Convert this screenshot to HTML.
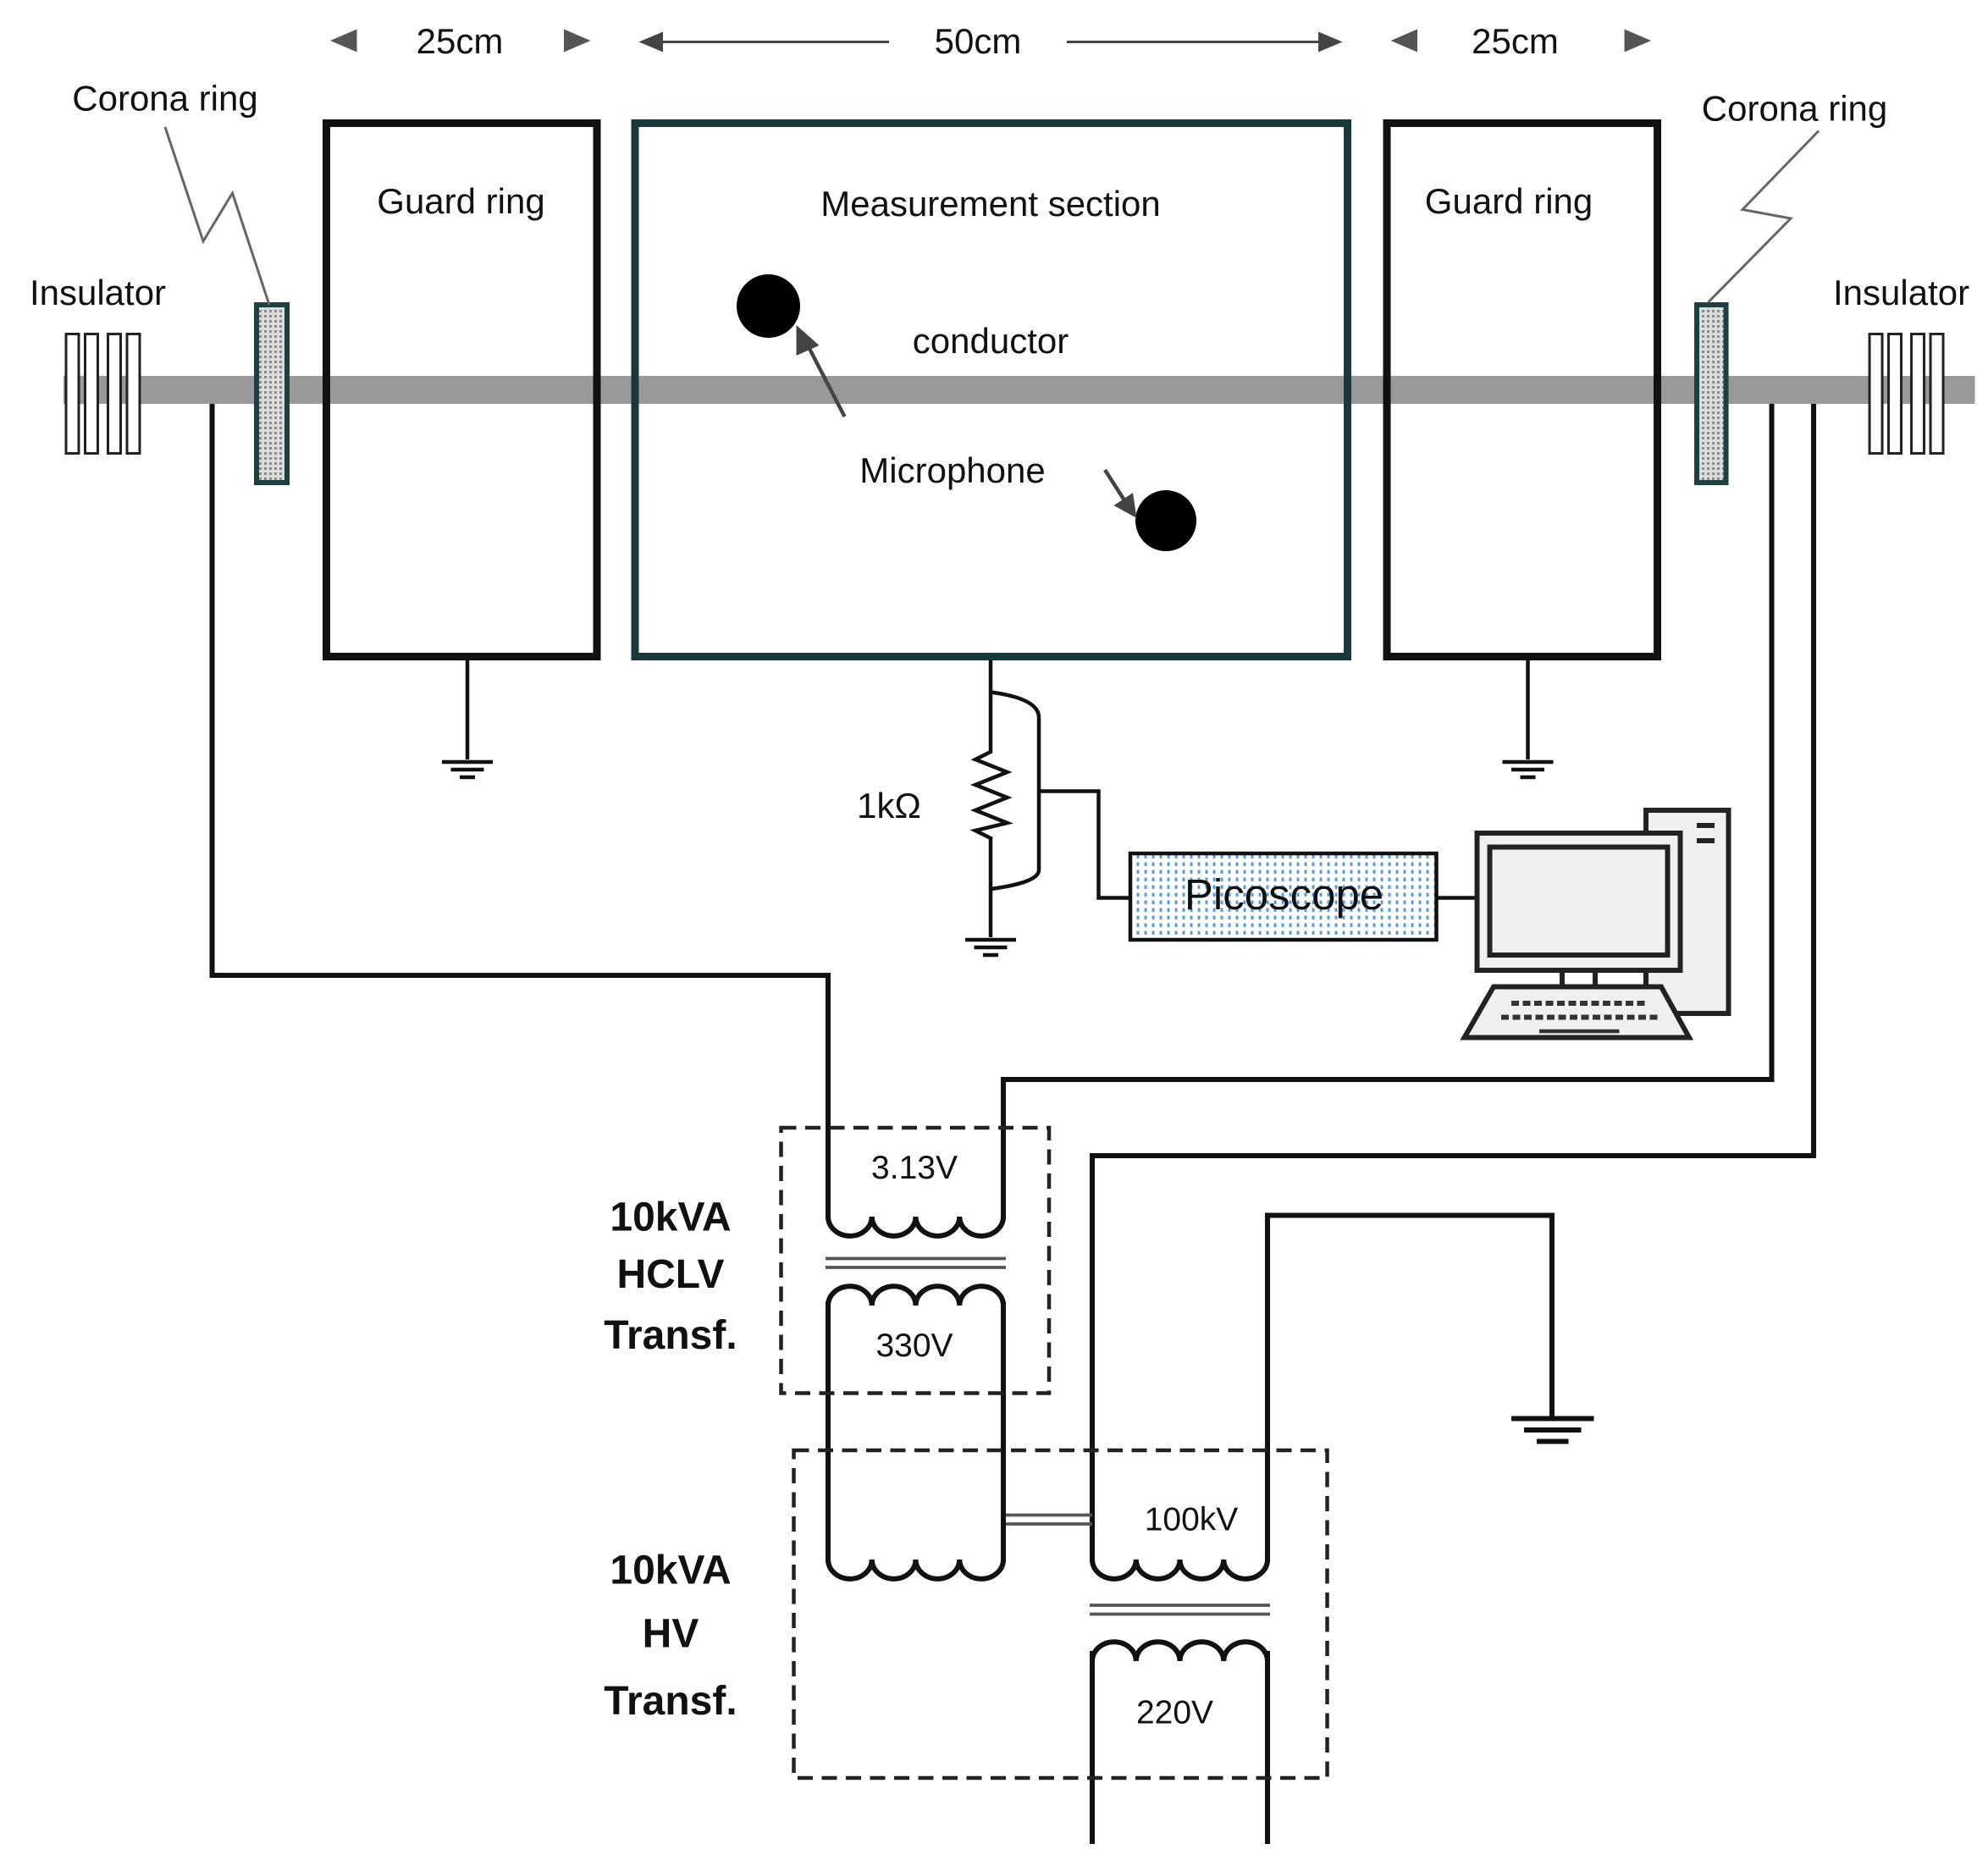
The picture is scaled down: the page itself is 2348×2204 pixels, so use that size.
<!DOCTYPE html>
<html><head><meta charset="utf-8"><style>
html,body{margin:0;padding:0;background:#fff}
svg{display:block}
text{font-family:"Liberation Sans",Arial,sans-serif;fill:#111}
</style></head><body>
<svg width="2348" height="2204" viewBox="0 0 1565.3 1469.3" preserveAspectRatio="none" xmlns="http://www.w3.org/2000/svg">
<defs>
<pattern id="dots" width="6" height="6" patternUnits="userSpaceOnUse"><rect width="6" height="6" fill="#fff"/><rect x="1" y="1" width="2" height="3" fill="#5b9bd5"/></pattern>
<pattern id="hatch" width="4" height="4" patternUnits="userSpaceOnUse"><rect width="4" height="4" fill="#ddd"/><rect width="2" height="2" fill="#888"/></pattern>
</defs>
<g font-size="28" text-anchor="middle">
<!-- dimensions -->
<path d="M260 32 L281 23 L281 41Z M465 32 L444 23 L444 41Z M1095 32 L1116 23 L1116 41Z M1300 32 L1279 23 L1279 41Z" fill="#555"/>
<text x="362" y="42">25cm</text>
<text x="1193" y="42">25cm</text>
<text x="770" y="42">50cm</text>
<line x1="510" y1="33" x2="700" y2="33" stroke="#444" stroke-width="2"/>
<line x1="840" y1="33" x2="1050" y2="33" stroke="#444" stroke-width="2"/>
<path d="M503 33 L522 25 L522 41Z M1057 33 L1038 25 L1038 41Z" fill="#444"/>
<text x="130" y="87">Corona ring</text>
<text x="1413" y="95">Corona ring</text>
<text x="77" y="240">Insulator</text>
<text x="1497" y="240">Insulator</text>
<!-- wires under -->
<g fill="none" stroke="#111" stroke-width="4">
<path d="M167 313 V768 H652 V960"/>
<path d="M1395 298 V850 H790 V960"/>
<path d="M1428 313 V910 H860 V1230"/>
<path d="M998 1230 V957 H1222 V1115"/>
<path d="M652 1025 V1230 M790 1025 V1230"/>
<path d="M860 1300 V1452 M998 1300 V1452"/>
</g>
<!-- conductor -->
<rect x="50" y="296" width="1505" height="22" fill="#999"/>
<!-- insulators -->
<g fill="#fff" stroke="#222" stroke-width="2">
<rect x="52" y="263" width="10" height="94"/><rect x="67" y="263" width="10" height="94"/><rect x="85" y="263" width="10" height="94"/><rect x="100" y="263" width="10" height="94"/>
<rect x="1472" y="263" width="10" height="94"/><rect x="1487" y="263" width="10" height="94"/><rect x="1505" y="263" width="10" height="94"/><rect x="1520" y="263" width="10" height="94"/>
</g>
<!-- corona rings -->
<rect x="202" y="240" width="24" height="140" fill="url(#hatch)" stroke="#1e4040" stroke-width="4"/>
<rect x="1336" y="240" width="23" height="140" fill="url(#hatch)" stroke="#1e4040" stroke-width="4"/>
<polyline points="130,100 160,190 183,152 212,240" fill="none" stroke="#666" stroke-width="2"/>
<polyline points="1432,103 1372,165 1410,172 1345,238" fill="none" stroke="#666" stroke-width="2"/>
<!-- boxes -->
<rect x="257" y="97" width="213" height="420" fill="none" stroke="#111" stroke-width="6"/>
<rect x="1092" y="97" width="213" height="420" fill="none" stroke="#111" stroke-width="6"/>
<rect x="500" y="97" width="561" height="420" fill="none" stroke="#17393a" stroke-width="6"/>
<text x="363" y="168">Guard ring</text>
<text x="1188" y="168">Guard ring</text>
<text x="780" y="170">Measurement section</text>
<text x="780" y="278">conductor</text>
<text x="750" y="380">Microphone</text>
<circle cx="605" cy="241" r="25" fill="#000"/>
<circle cx="918" cy="410" r="24" fill="#000"/>
<line x1="665" y1="328" x2="635" y2="270" stroke="#444" stroke-width="3"/>
<path d="M627 256 L645 272 L627 280Z" fill="#444"/>
<line x1="870" y1="370" x2="886" y2="395" stroke="#444" stroke-width="3"/>
<path d="M895 408 L877 398 L892 388Z" fill="#444"/>
<!-- grounds -->
<g stroke="#111" stroke-width="3" fill="none">
<path d="M368 520 V598 M348 600 H388 M355 606 H381 M362 612 H374"/>
<path d="M1203 520 V598 M1183 600 H1223 M1190 606 H1216 M1197 612 H1209"/>
<path d="M780 520 V592 L768 598 L793 608 L768 618 L793 628 L768 638 L793 648 L768 654 L780 660 V738 M760 740 H800 M767 746 H793 M774 752 H786"/>
<path d="M780 545 Q818 550 818 565 V685 Q818 695 780 700"/>
<path d="M818 623 H865 V707 H890 M1131 707 H1162"/>
</g>
<g stroke="#111" stroke-width="4" fill="none"><path d="M1190 1117 H1255 M1200 1126 H1245 M1210 1135 H1235"/></g>
<text x="700" y="644">1kΩ</text>
<rect x="890" y="672" width="241" height="68" fill="url(#dots)" stroke="#111" stroke-width="3"/>
<text x="1011" y="716" font-size="34">Picoscope</text>
<!-- computer -->
<g stroke="#222" stroke-width="4" fill="#f0f0f0">
<rect x="1296" y="638" width="65" height="160"/>
<rect x="1163" y="656" width="160" height="108"/>
<rect x="1173" y="667" width="140" height="85"/>
<path d="M1176 777 L1240 777 L1308 777 L1330 817 L1153 817Z"/>
</g>
<path d="M1230 764 V777 M1256 764 V777 M1296 764 V777" stroke="#222" stroke-width="4"/>
<path d="M1336 650 H1350 M1336 662 H1350" stroke="#222" stroke-width="4"/>
<path d="M1190 790 H1295 M1182 801 H1305" stroke="#333" stroke-width="4" stroke-dasharray="6 3"/>
<path d="M1212 812 H1275" stroke="#333" stroke-width="3"/>
<!-- transformers -->
<rect x="615" y="888" width="211" height="209" fill="none" stroke="#222" stroke-width="3" stroke-dasharray="12 7"/>
<rect x="625" y="1142" width="420" height="258" fill="none" stroke="#222" stroke-width="3" stroke-dasharray="12 7"/>
<g fill="none" stroke="#111" stroke-width="4">
<path d="M652 958 a17 15 0 0 0 34.5 0 a17 15 0 0 0 34.5 0 a17 15 0 0 0 34.5 0 a17 15 0 0 0 34.5 0"/>
<path d="M652 1028 a17 15 0 0 1 34.5 0 a17 15 0 0 1 34.5 0 a17 15 0 0 1 34.5 0 a17 15 0 0 1 34.5 0"/>
<path d="M652 1228 a17 15 0 0 0 34.5 0 a17 15 0 0 0 34.5 0 a17 15 0 0 0 34.5 0 a17 15 0 0 0 34.5 0"/>
<path d="M860 1228 a17 15 0 0 0 34.5 0 a17 15 0 0 0 34.5 0 a17 15 0 0 0 34.5 0 a17 15 0 0 0 34.5 0"/>
<path d="M860 1308 a17 15 0 0 1 34.5 0 a17 15 0 0 1 34.5 0 a17 15 0 0 1 34.5 0 a17 15 0 0 1 34.5 0"/>
</g>
<g stroke="#555" stroke-width="2.5">
<path d="M650 991 H792 M650 998 H792"/>
<path d="M858 1264 H1000 M858 1271 H1000"/>
<path d="M792 1193 H860 M792 1200 H860"/>
</g>
<g font-size="26">
<text x="720" y="928">3.13V</text>
<text x="720" y="1068">330V</text>
<text x="938" y="1205">100kV</text>
<text x="925" y="1357">220V</text>
</g>
<g font-size="32" font-weight="bold">
<text x="528" y="969">10kVA</text><text x="528" y="1014">HCLV</text><text x="528" y="1062">Transf.</text>
<text x="528" y="1247">10kVA</text><text x="528" y="1297">HV</text><text x="528" y="1350">Transf.</text>
</g>
</g>
</svg>
</body></html>
